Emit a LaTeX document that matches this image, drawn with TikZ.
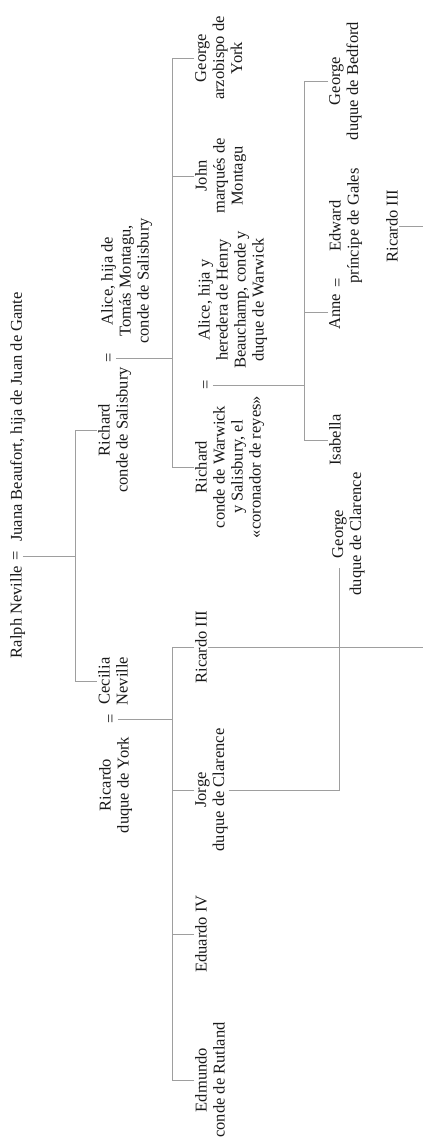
\documentclass[tikz,border=0pt]{standalone}
\usepackage{fontspec}
\setmainfont{Liberation Serif}
\usepackage{tikz}
\usetikzlibrary{positioning}
\definecolor{tinta}{gray}{0.1}
\definecolor{raya}{gray}{0.62}
\tikzset{
    %Define standard font
    font=\fontsize{16.5}{18}\selectfont,
    %Define style for persons
    persona/.style={
           rotate=90,
           anchor=north,
           align=center,
           text=tinta,
           inner sep=1pt},
    % Define style for marriage sign
    boda/.style={rotate=90, text=tinta, inner sep=2pt},
    % Define line style
    rama/.style={draw=raya, line width=0.9pt}
}

\begin{document}
\begin{tikzpicture}[x=1pt,y=-1pt]
  \useasboundingbox (0,0) rectangle (423,1144);
  % Ralph Neville
  \node[persona] (juana) at (9,417) {Juana Beaufort, hija de Juan de Gante};
  \node[boda] (eqR) at (17,556) {=};
  \node[persona] (ralph) at (9,612) {Ralph Neville};
  \coordinate (r1) at (75,0);
  % Salisbury
  \node[persona] (aliceM) at (100,281) {Alice, hija de\\Tomás Montagu,\\conde de Salisbury};
  \node[boda] (eqS) at (110,358) {=};
  \node[persona] (richardS) at (97,430) {Richard\\conde de Salisbury};
  \coordinate (r2) at (172,0);
  \node[persona] (georgeY) at (194,58) {George\\arzobispo de\\York};
  \node[persona] (johnM) at (194,176) {John\\marqués de\\Montagu};
  \node[persona] (aliceW) at (197,300) {Alice, hija y\\heredera de Henry\\Beauchamp, conde y\\duque de Warwick};
  \node[boda] (eqW) at (207,385) {=};
  \node[persona] (richardW) at (194,467) {Richard\\conde de Warwick\\y Salisbury, el\\«coronador de reyes»};
  % Warwick
  \coordinate (r3) at (304,0);
  \node[persona] (georgeB) at (328,81) {George\\duque de Bedford};
  \node[persona] (edward) at (328,226) {Edward\\príncipe de Gales};
  \node[boda] (eqA) at (339,283) {=};
  \node[persona] (anne) at (328,312) {Anne};
  \node[persona] (isabella) at (328,440) {Isabella};
  \node[persona] (georgeC) at (331,534) {George\\duque de Clarence};
  \node[persona] (ricardoIIIa) at (385,226) {Ricardo III};
  \coordinate (bordeA) at (423,226);
  % York
  \node[persona] (cecilia) at (97,681) {Cecilia\\Neville};
  \node[boda] (eqY) at (112,719) {=};
  \node[persona] (ricardoY) at (98,785) {Ricardo\\duque de York};
  \coordinate (r4) at (172,0);
  \node[persona] (ricardoIII) at (194,647) {Ricardo III};
  \node[persona] (jorge) at (194,790) {Jorge\\duque de Clarence};
  \node[persona] (eduardo) at (194,934) {Eduardo IV};
  \node[persona] (edmundo) at (194,1080) {Edmundo\\conde de Rutland};
  \coordinate (bordeB) at (423,647);

  \draw[rama] (eqR.south) -- (eqR.south -| r1);
  \draw[rama] (richardS.north) -- (r1 |- richardS.north) -- (r1 |- cecilia.north) -- (cecilia.north);
  \draw[rama] (eqS.south) -- (eqS.south -| r2);
  \draw[rama] (georgeY.north) -- (r2 |- georgeY.north) -- (r2 |- richardW.north) -- (richardW.north);
  \draw[rama] (johnM.north) -- (r2 |- johnM.north);
  \draw[rama] (eqW.south) -- (eqW.south -| r3);
  \draw[rama] (georgeB.north) -- (r3 |- georgeB.north) -- (r3 |- isabella.north) -- (isabella.north);
  \draw[rama] (anne.north) -- (r3 |- anne.north);
  \draw[rama] (eqY.south) -- (eqY.south -| r4);
  \draw[rama] (ricardoIII.north) -- (r4 |- ricardoIII.north) -- (r4 |- edmundo.north) -- (edmundo.north);
  \draw[rama] (jorge.north) -- (r4 |- jorge.north);
  \draw[rama] (eduardo.north) -- (r4 |- eduardo.north);
  \draw[rama] (ricardoIII.south) -- (bordeB);
  \draw[rama] (ricardoIIIa.south) -- (bordeA);
  \draw[rama] (jorge.south) -| ([xshift=8pt,yshift=29pt]georgeC.north west);
\end{tikzpicture}
\end{document}
